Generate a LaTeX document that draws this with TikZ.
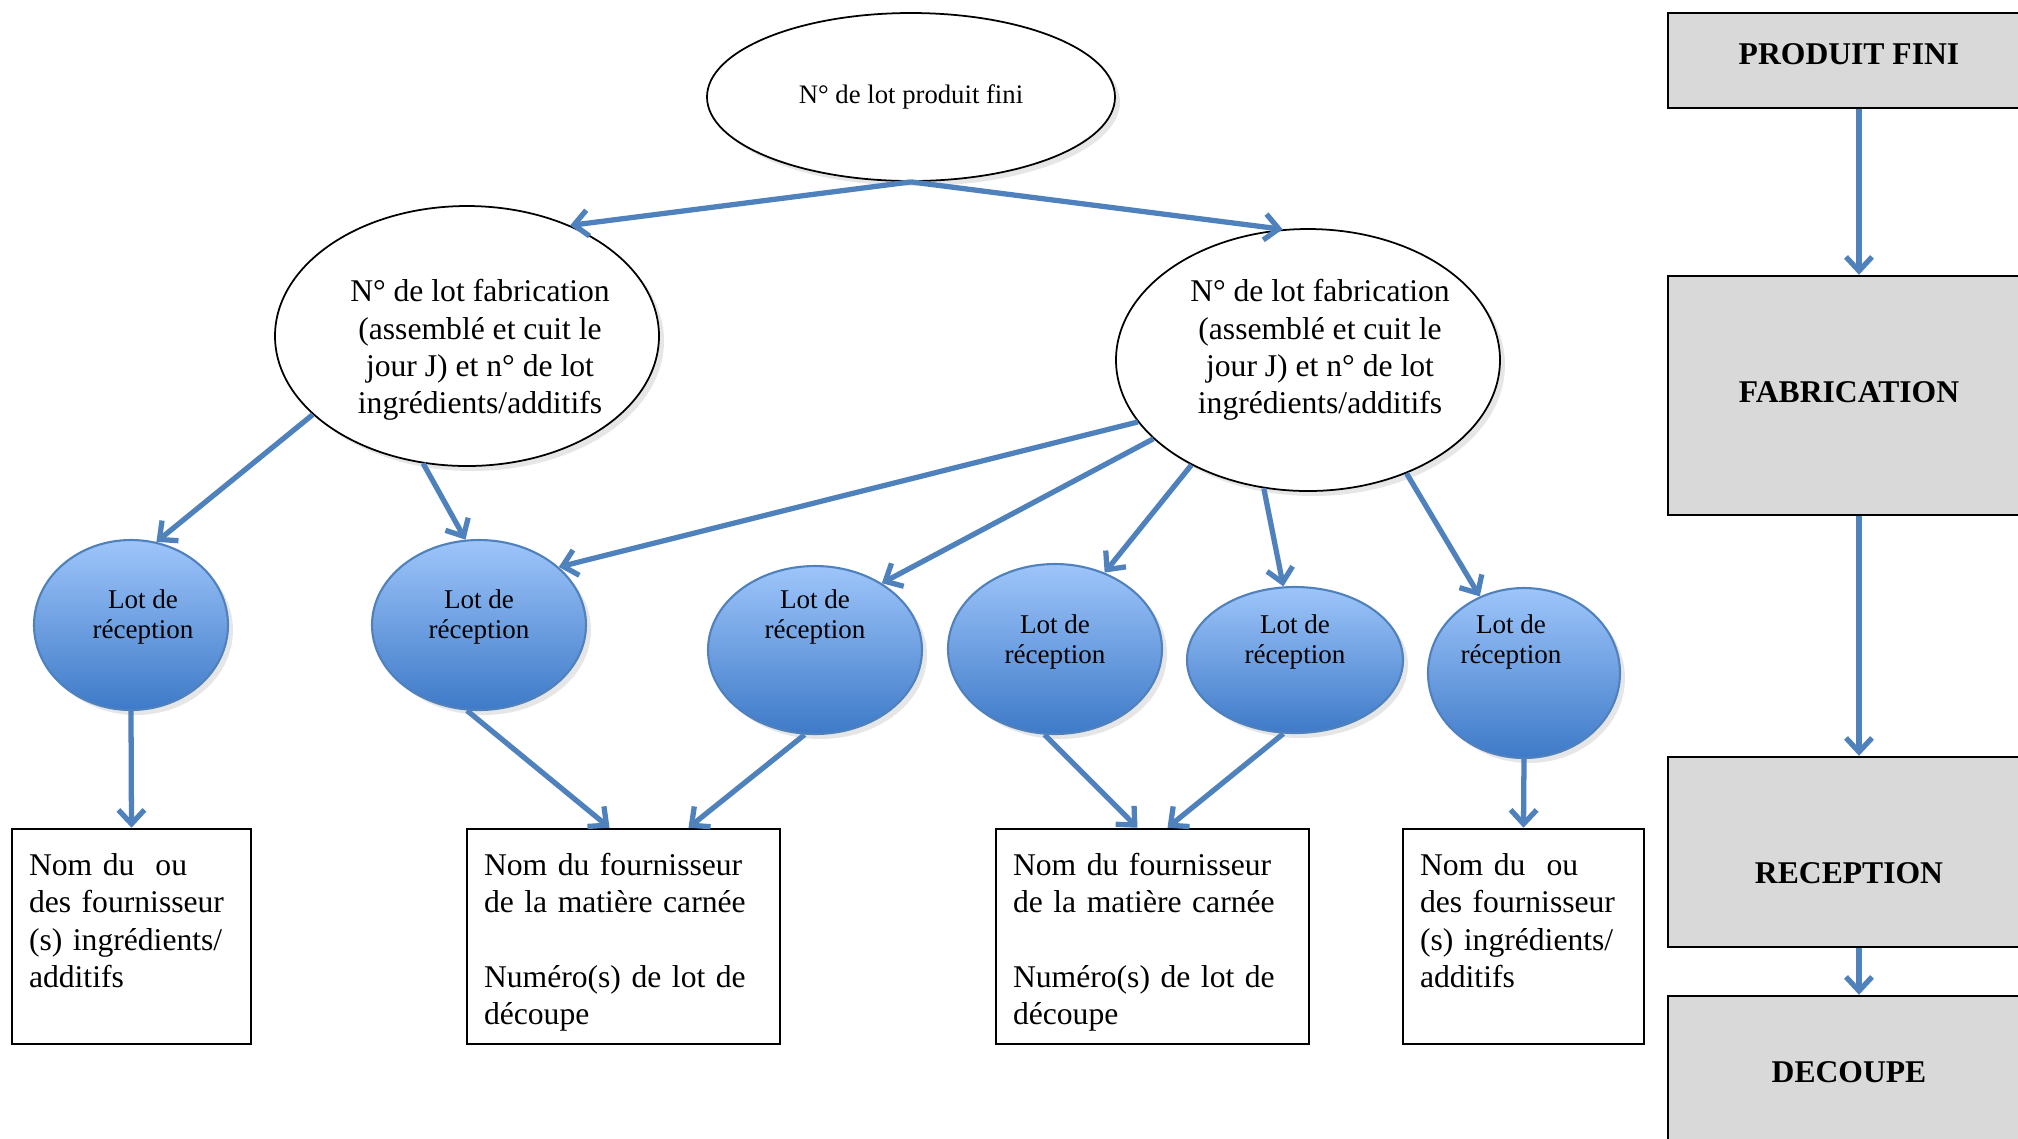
\documentclass[tikz,border=0pt]{standalone}
\usepackage{fontspec}
\setmainfont{Liberation Serif}
\usetikzlibrary{arrows.meta,shapes.geometric,shadows}
\definecolor{lotblue}{RGB}{79,129,189}
\definecolor{lottop}{RGB}{158,197,250}
\definecolor{lotbottom}{RGB}{62,122,200}
\definecolor{stagegray}{RGB}{217,217,217}
\tikzset{
  lotellipse/.style={
    ellipse,
    draw=black,
    line width=0.5pt,
    fill=white,
    inner sep=0pt,
    drop shadow={opacity=0.2,shadow xshift=0.5mm,shadow yshift=-0.5mm}
  },
  topellipse/.style={
    lotellipse,
    align=center,
    font=\fontsize{7.6}{9}\selectfont
  },
  fabtext/.style={
    align=center,
    font=\fontsize{9}{10.6}\selectfont
  },
  lotcircle/.style={
    ellipse,
    draw=lotblue,
    line width=0.6pt,
    top color=lottop,
    bottom color=lotbottom,
    drop shadow={opacity=0.2,shadow xshift=0.5mm,shadow yshift=-0.5mm}
  },
  lottext/.style={
    align=center,
    font=\fontsize{7.7}{8.8}\selectfont
  },
  supplier/.style={
    draw=black,
    line width=0.7pt,
    fill=white,
    minimum height=21.5mm,
    inner xsep=1.7mm,
    inner ysep=0pt,
    text height=13.3pt,
    text depth=47.9pt,
    align=left,
    font=\fontsize{9}{10.6}\selectfont
  },
  stagebox/.style={
    draw=black,
    line width=0.7pt,
    fill=stagegray,
    minimum width=36.2mm,
    text height=6pt,
    text depth=0pt,
    font=\fontsize{9}{10.6}\selectfont\bfseries
  },
  arr/.style={-{Straight Barb[length=1.4mm,width=2.6mm]},line width=1.5pt,lotblue}
}

\begin{document}
\begin{tikzpicture}[x=0.1mm,y=-0.1mm]
        \useasboundingbox (0,0) rectangle (2018,1138);
        \clip (0,0) rectangle (2018,1138);

        \node[topellipse,minimum width=40.8mm,minimum height=16.8mm] (tp) at (911,97) {N° de lot produit fini};
        \node[lotellipse,minimum width=38.4mm,minimum height=26mm] (fl) at (467,336) {};
        \node[lotellipse,minimum width=38.4mm,minimum height=26.2mm] (fr) at (1308,360) {};
        \node[fabtext] (fltxt) at (480,350)
          {N° de lot fabrication\\(assemblé et cuit le\\jour J) et n° de lot\\ingrédients/additifs};
        \node[fabtext] (frtxt) at (1320,350)
          {N° de lot fabrication\\(assemblé et cuit le\\jour J) et n° de lot\\ingrédients/additifs};

        \node[lotcircle,minimum width=19.4mm,minimum height=17mm] (c1) at (131,625) {};
        \node[lotcircle,minimum width=21.4mm,minimum height=17mm] (c2) at (479,625) {};
        \node[lotcircle,minimum width=21.4mm,minimum height=16.8mm] (c3) at (815,650) {};
        \node[lotcircle,minimum width=21.4mm,minimum height=17mm] (c4) at (1055,649) {};
        \node[lotcircle,minimum width=21.6mm,minimum height=14.6mm] (c5) at (1295,660) {};
        \node[lotcircle,minimum width=19.2mm,minimum height=17mm] (c6) at (1524,673) {};

        \node[lottext] (t1) at (143,617) {Lot de\\réception};
        \node[lottext] (t2) at (479,617) {Lot de\\réception};
        \node[lottext] (t3) at (815,617) {Lot de\\réception};
        \node[lottext] (t4) at (1055,642) {Lot de\\réception};
        \node[lottext] (t5) at (1295,642) {Lot de\\réception};
        \node[lottext] (t6) at (1511,642) {Lot de\\réception};

        \node[supplier,text width=20.5mm] (ba) at (131.5,936.5)
          {Nom du\ \ ou\\des fournisseur\\(s) ingrédients/\\additifs};
        \node[supplier,text width=27.9mm] (bb) at (623.5,936.5)
          {Nom du fournisseur\\de la matière carnée\\[10.6pt]Numéro(s) de lot de\\découpe};
        \node[supplier,text width=27.9mm] (bc) at (1152.5,936.5)
          {Nom du fournisseur\\de la matière carnée\\[10.6pt]Numéro(s) de lot de\\découpe};
        \node[supplier,text width=20.7mm] (bd) at (1523.5,936.5)
          {Nom du\ \ ou\\des fournisseur\\(s) ingrédients/\\additifs};

        \node[stagebox,minimum height=9.5mm,text depth=3.6pt] (pf) at (1849,60.5) {PRODUIT FINI};
        \node[stagebox,minimum height=23.9mm,text depth=2.2pt] (fab) at (1849,395.5) {FABRICATION};
        \node[stagebox,minimum height=19mm,text height=17.7pt] (rec) at (1849,852) {RECEPTION};
        \node[stagebox,minimum height=15.2mm] (dec) at (1849,1072) {DECOUPE};

        \draw[arr] (tp.south) -- (fl.47);
        \draw[arr] (tp.south) -- (fr.101);

        \draw[arr] (fl.207) -- (c1.73);
        \draw[arr] (fl.251) -- (c2.99);
        \draw[arr] (fr.200) -- (c2.36);
        \draw[arr] (fr.207) -- (c3.45);
        \draw[arr] (fr.222) -- (c4.57);
        \draw[arr] (fr.251) -- (c5.99);
        \draw[arr] (fr.311) -- (c6.120);

        \draw[arr] (c1.south) -- (ba.north);
        \draw[arr] (c2.262) -- ([xshift=-1.4mm]bb.north);
        \draw[arr] (c3.263) -- ([xshift=6.5mm]bb.north);
        \draw[arr] (c4.263) -- ([xshift=-1.5mm]bc.north);
        \draw[arr] (c5.261) -- ([xshift=1.5mm]bc.north);
        \draw[arr] (c6.south) -- (bd.north);

        \draw[arr] ([xshift=1mm]pf.south) -- ([xshift=1mm]fab.north);
        \draw[arr] ([xshift=1mm]fab.south) -- ([xshift=1mm]rec.north);
        \draw[arr] ([xshift=1mm]rec.south) -- ([xshift=1mm]dec.north);
\end{tikzpicture}
\end{document}
